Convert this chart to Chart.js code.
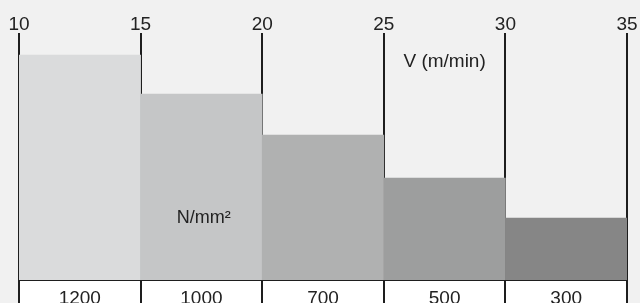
<!DOCTYPE html>
<html>
<head>
<meta charset="utf-8">
<script src="https://cdn.jsdelivr.net/npm/chart.js@4"></script>
<style>
  html, body { margin: 0; padding: 0; background: #f1f1f1; }
  #wrap { width: 640px; height: 303px; }
</style>
</head>
<body>
<div id="wrap"><canvas id="myBarChart"></canvas></div>
<script>
// bottom labels: force per section (N/mm²)
var forces = ['1200', '1000', '700', '500', '300'];
// top axis: speed ticks (m/min)
var speedTicks = [10, 15, 20, 25, 30, 35];
// bar heights (arbitrary units, axis max 247)
var barHeights = [225, 186, 145, 102, 62];
var barColors = ['#dadbdc', '#c5c6c7', '#b0b1b1', '#9d9e9e', '#868686'];

var fontFamily = '"Liberation Sans", Arial, sans-serif';

// background + white strip under the bars, and the two unit captions
var decor = {
  id: 'decor',
  beforeDraw: function (chart) {
    var c = chart.ctx, a = chart.chartArea;
    c.save();
    c.fillStyle = '#f1f1f1';
    c.fillRect(0, 0, chart.width, chart.height);
    c.fillStyle = '#ffffff';
    c.fillRect(a.left, a.bottom, a.right - a.left, chart.height - a.bottom);
    c.restore();
  },
  afterDraw: function (chart) {
    var c = chart.ctx;
    var top = chart.scales.xTop, y = chart.scales.y;
    c.save();
    c.fillStyle = '#222';
    c.textAlign = 'center';
    c.textBaseline = 'middle';
    c.font = '19px ' + fontFamily;
    c.fillText('V (m/min)', top.getPixelForValue(27.5), y.getPixelForValue(218));
    c.font = '18px ' + fontFamily;
    c.fillText('N/mm²', top.getPixelForValue(17.6), y.getPixelForValue(62));
    c.restore();
  }
};

var ctx = document.getElementById('myBarChart').getContext('2d');
var myBarChart = new Chart(ctx, {
  type: 'bar',
  data: {
    labels: forces,
    datasets: [{
      data: barHeights,
      backgroundColor: barColors,
      borderWidth: 0,
      barPercentage: 1,
      categoryPercentage: 1
    }]
  },
  options: {
    responsive: true,
    maintainAspectRatio: false,
    animation: false,
    layout: { padding: { left: 19, right: 13, top: 14, bottom: 0 } },
    plugins: {
      legend: { display: false },
      tooltip: { enabled: false }
    },
    scales: {
      x: {
        position: 'bottom',
        offset: true,
        grid: {
          offset: true,
          color: '#1e1e1e',
          lineWidth: 2,
          tickLength: 23
        },
        border: { color: '#1e1e1e', width: 2 },
        ticks: {
          color: '#222',
          font: { family: fontFamily, size: 19 },
          padding: -16
        },
        afterFit: function (scale) { scale.height = 23; }
      },
      xTop: {
        type: 'linear',
        position: 'top',
        offset: false,
        min: 10,
        max: 35,
        afterBuildTicks: function (scale) {
          scale.ticks = speedTicks.map(function (v) { return { value: v }; });
        },
        grid: { display: false, drawTicks: false, tickLength: 0 },
        border: { display: false },
        ticks: {
          color: '#222',
          font: { family: fontFamily, size: 19, lineHeight: 1 },
          padding: -1
        },
        afterFit: function (scale) { scale.height = 19; }
      },
      y: {
        display: false,
        min: 0,
        max: 247
      }
    }
  },
  plugins: [decor]
});
</script>
</body>
</html>
